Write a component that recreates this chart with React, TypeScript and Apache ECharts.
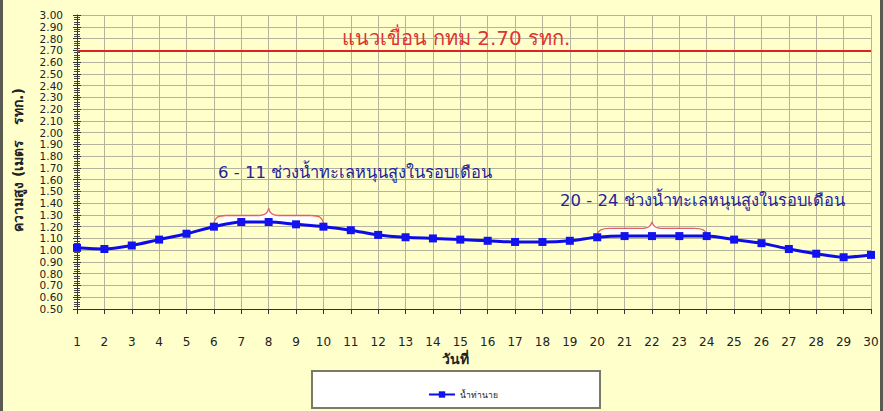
import React, { useEffect, useRef } from "react";
import * as echarts from "echarts";

const days = ["1","2","3","4","5","6","7","8","9","10","11","12","13","14","15","16","17","18","19","20","21","22","23","24","25","26","27","28","29","30"];
const waterLevel = [1.02,1.01,1.04,1.09,1.14,1.20,1.24,1.24,1.22,1.20,1.17,1.13,1.11,1.10,1.09,1.08,1.07,1.07,1.08,1.11,1.12,1.12,1.12,1.12,1.09,1.06,1.01,0.97,0.94,0.96];
const seriesName = "น้ำท่านาย";
const damLevel = 2.7;
const damLabel = "แนวเขื่อน กทม 2.70 รทก.";
const note1 = "6 - 11 ช่วงน้ำทะเลหนุนสูงในรอบเดือน";
const note2 = "20 - 24 ช่วงน้ำทะเลหนุนสูงในรอบเดือน";
const yName = "ความสูง (เมตร   รทก.)";
const xName = "วันที่";
// braces: [startDayIndex, endDayIndex, endValue, flatValue, peakValue]
const braces = [
  [5, 9, 1.23, 1.295, 1.355],
  [19, 23, 1.135, 1.185, 1.24],
];

const FONT = "Tahoma, 'DejaVu Sans', 'Noto Sans', sans-serif";

function braceEls(xa: number, xb: number, yEnd: number, yFlat: number, yPeak: number) {
  const xm = (xa + xb) / 2;
  const st = { stroke: "#e06060", lineWidth: 1.3, fill: null as any };
  const r = 12;
  const els: any[] = [];
  els.push({
    type: "polygon",
    shape: { points: [[xa, yEnd], [xa + r, yFlat], [xm - 8, yFlat], [xm, yPeak], [xm + 8, yFlat], [xb - r, yFlat], [xb, yEnd]] },
    style: { fill: "#ffffff" },
    silent: true,
  });
  els.push({ type: "bezierCurve", shape: { x1: xa, y1: yEnd, x2: xa + r, y2: yFlat, cpx1: xa + 1, cpy1: yFlat + 2, cpx2: xa + 4, cpy2: yFlat }, style: st });
  els.push({ type: "line", shape: { x1: xa + r, y1: yFlat, x2: xm - 9, y2: yFlat }, style: st });
  els.push({ type: "bezierCurve", shape: { x1: xm - 9, y1: yFlat, x2: xm, y2: yPeak, cpx1: xm - 4, cpy1: yFlat, cpx2: xm - 1, cpy2: yFlat - 2 }, style: st });
  els.push({ type: "bezierCurve", shape: { x1: xm, y1: yPeak, x2: xm + 9, y2: yFlat, cpx1: xm + 1, cpy1: yFlat - 2, cpx2: xm + 4, cpy2: yFlat }, style: st });
  els.push({ type: "line", shape: { x1: xm + 9, y1: yFlat, x2: xb - r, y2: yFlat }, style: st });
  els.push({ type: "bezierCurve", shape: { x1: xb - r, y1: yFlat, x2: xb, y2: yEnd, cpx1: xb - 4, cpy1: yFlat, cpx2: xb - 1, cpy2: yFlat + 2 }, style: st });
  return els;
}

export default function App() {
  const ref = useRef<HTMLDivElement>(null);
  useEffect(() => {
    if (!ref.current) return;
    const chart = echarts.init(ref.current, null, { renderer: "svg" });
    const gridColor = "#b4b49c";
    const option: any = {
      animation: false,
      backgroundColor: "#ffffcc",
      grid: { left: 77, right: 12, top: 15, bottom: 102 },
      xAxis: {
        type: "category",
        data: days,
        boundaryGap: false,
        axisLine: { lineStyle: { color: "#333", width: 1 } },
        axisTick: { show: true, interval: 0, length: 5, lineStyle: { color: "#333" } },
        axisLabel: { interval: 0, margin: 27, fontSize: 12, color: "#222", fontFamily: FONT },
        splitLine: { show: true, interval: 0, lineStyle: { color: gridColor, width: 1 } },
      },
      yAxis: [
        {
          type: "value",
          min: 0.5,
          max: 3.0,
          interval: 0.1,
          axisLine: { show: true, lineStyle: { color: "#333" } },
          axisTick: { show: true, length: 4, lineStyle: { color: "#333" } },
          minorTick: { show: true, splitNumber: 5, length: 3, lineStyle: { color: "#444" } },
          axisLabel: { margin: 14, fontSize: 10.5, color: "#222", fontFamily: FONT, formatter: (v: number) => v.toFixed(2) },
          splitLine: { show: true, lineStyle: { color: gridColor, width: 1 } },
        },
        {
          type: "value",
          position: "left",
          min: 0.5,
          max: 3.0,
          interval: 0.1,
          axisLine: { show: false },
          axisTick: { show: true, inside: true, length: 4, lineStyle: { color: "#333" } },
          minorTick: { show: true, splitNumber: 5, length: 3, lineStyle: { color: "#444" } },
          axisLabel: { show: false },
          splitLine: { show: false },
        },
      ],
      legend: {
        data: [seriesName],
        left: 423,
        top: 385,
        itemWidth: 26,
        itemHeight: 8,
        itemGap: 4,
        textStyle: { fontSize: 8.5, color: "#222", fontFamily: FONT },
      },
      series: [
        {
          name: seriesName,
          type: "line",
          data: waterLevel,
          smooth: 0.3,
          symbol: "rect",
          symbolSize: 8,
          lineStyle: { color: "#0c0ce6", width: 3 },
          itemStyle: { color: "#1212f0" },
          z: 5,
          markLine: {
            silent: true,
            symbol: ["none", "none"],
            label: { show: false },
            lineStyle: { color: "#dd2222", width: 2, type: "solid" },
            data: [{ yAxis: damLevel }],
          },
        },
      ],
    };
    chart.setOption(option);

    const graphics: any[] = [
      { type: "rect", shape: { x: 0, y: 0, width: 3, height: 411 }, style: { fill: "#5a5a50" }, silent: true },
      { type: "rect", shape: { x: 880, y: 0, width: 3, height: 411 }, style: { fill: "#5a5a50" }, silent: true },
      { type: "rect", shape: { x: 312, y: 371, width: 288, height: 37 }, style: { fill: "#ffffff", stroke: "#7a7a66", lineWidth: 2 }, silent: true, z: -1 },
      { type: "text", x: 456, y: 38, style: { text: damLabel, fill: "#e03333", font: `20px ${FONT}`, align: "center", verticalAlign: "middle" }, z: 10 },
      { type: "text", x: 218, y: 172, style: { text: note1, fill: "#24249a", font: `16.5px ${FONT}`, align: "left", verticalAlign: "middle" }, z: 10 },
      { type: "text", x: 560, y: 200, style: { text: note2, fill: "#24249a", font: `16.5px ${FONT}`, align: "left", verticalAlign: "middle" }, z: 10 },
      { type: "text", x: 18, y: 160, rotation: Math.PI / 2, style: { text: yName, fill: "#222", font: `bold 14px ${FONT}`, align: "center", verticalAlign: "middle" }, z: 10 },
      { type: "text", x: 455, y: 359, style: { text: xName, fill: "#222", font: `bold 14px ${FONT}`, align: "center", verticalAlign: "middle" }, z: 10 },
    ];
    for (const b of braces) {
      const [i0, i1, vEnd, vFlat, vPeak] = b;
      const pa = chart.convertToPixel({ gridIndex: 0 }, [i0, vEnd]) as number[];
      const pb = chart.convertToPixel({ gridIndex: 0 }, [i1, vEnd]) as number[];
      const yF = chart.convertToPixel({ yAxisIndex: 0 }, vFlat) as number;
      const yP = chart.convertToPixel({ yAxisIndex: 0 }, vPeak) as number;
      graphics.push(...braceEls(pa[0], pb[0], pa[1], yF, yP));
    }
    chart.setOption({ graphic: graphics });
    return () => chart.dispose();
  }, []);
  return <div ref={ref} style={{ position: "fixed", left: 0, top: 0, width: 883, height: 411 }} />;
}
